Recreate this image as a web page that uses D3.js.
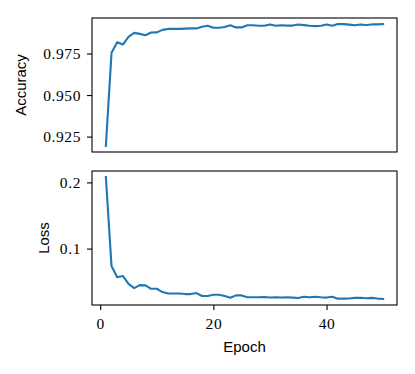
<!DOCTYPE html>
<html lang="en">
<head>
<meta charset="utf-8">
<script src="https://d3js.org/d3.v7.min.js"></script>
<style>
  body { margin: 0; background: #fff; }
  .tick text { font-family: "Liberation Serif", serif; font-size: 15.5px; fill: #000; letter-spacing: 0.6px; }
  .tick line { stroke: #000; stroke-width: 1.1px; }
  .domain { display: none; }
  .axis-label { font-family: "Liberation Sans", sans-serif; font-size: 15px; fill: #000; }
</style>
</head>
<body>
<div id="chart"></div>
<script>
var epochs = d3.range(1, 51);

var accuracy = [
  0.9194, 0.9754, 0.9818, 0.9804, 0.9850, 0.9874, 0.9868, 0.9860, 0.9876, 0.9877,
  0.9892, 0.9898, 0.9898, 0.9898, 0.9900, 0.9901, 0.9901, 0.9911, 0.9917, 0.9905,
  0.9905, 0.9909, 0.9920, 0.9907, 0.9907, 0.9920, 0.9920, 0.9917, 0.9917, 0.9925,
  0.9917, 0.9920, 0.9918, 0.9918, 0.9925, 0.9921, 0.9917, 0.9915, 0.9917, 0.9925,
  0.9917, 0.9927, 0.9927, 0.9924, 0.9920, 0.9925, 0.9922, 0.9925, 0.9925, 0.9927
];

var loss = [
  0.2080, 0.0736, 0.0567, 0.0587, 0.0467, 0.0403, 0.0448, 0.0445, 0.0393, 0.0393,
  0.0343, 0.0322, 0.0322, 0.0322, 0.0313, 0.0313, 0.0328, 0.0284, 0.0285, 0.0303,
  0.0303, 0.0284, 0.0258, 0.0293, 0.0293, 0.0264, 0.0264, 0.0264, 0.0270, 0.0262,
  0.0266, 0.0262, 0.0264, 0.0260, 0.0254, 0.0272, 0.0265, 0.0272, 0.0264, 0.0260,
  0.0272, 0.0244, 0.0244, 0.0246, 0.0256, 0.0258, 0.0249, 0.0255, 0.0245, 0.0240
];

var xTicks = [0, 20, 40];
var accTicks = [0.925, 0.950, 0.975];
var lossTicks = [0.1, 0.2];

var W = 415, H = 374;
var left = 92, right = 397;

var svg = d3.select("#chart").append("svg")
  .attr("width", W)
  .attr("height", H)
  .style("background", "#fff");

// shared x with matplotlib-style 5% margins
var xPad = (d3.max(epochs) - d3.min(epochs)) * 0.05;
var x = d3.scaleLinear()
  .domain([d3.min(epochs) - xPad, d3.max(epochs) + xPad])
  .range([left, right]);

function panel(values, ticks, fmt, top, bottom, label, labelX, showX) {
  var lo = d3.min(values), hi = d3.max(values), pad = (hi - lo) * 0.05;
  var y = d3.scaleLinear().domain([lo - pad, hi + pad]).range([bottom, top]);

  svg.append("g")
    .attr("transform", "translate(" + left + ",0)")
    .call(d3.axisLeft(y).tickValues(ticks).tickFormat(d3.format(fmt)).tickSize(5).tickPadding(6));

  if (showX) {
    svg.append("g")
      .attr("transform", "translate(0," + bottom + ")")
      .call(d3.axisBottom(x).tickValues(xTicks).tickSize(5).tickPadding(8));
  }

  svg.append("path")
    .datum(values)
    .attr("fill", "none")
    .attr("stroke", "#1f77b4")
    .attr("stroke-width", 2.1)
    .attr("stroke-linejoin", "round")
    .attr("stroke-linecap", "square")
    .attr("d", d3.line()
      .x(function(d, i) { return x(epochs[i]); })
      .y(function(d) { return y(d); }));

  svg.append("rect")
    .attr("x", left)
    .attr("y", top)
    .attr("width", right - left)
    .attr("height", bottom - top)
    .attr("fill", "none")
    .attr("stroke", "#000")
    .attr("stroke-width", 1.1);

  svg.append("text")
    .attr("class", "axis-label")
    .attr("transform", "translate(" + labelX + "," + ((top + bottom) / 2) + ") rotate(-90)")
    .attr("text-anchor", "middle")
    .text(label);
}

panel(accuracy, accTicks, ".3f", 18, 152, "Accuracy", 26, false);
panel(loss, lossTicks, ".1f", 171, 305, "Loss", 49, true);

svg.append("text")
  .attr("class", "axis-label")
  .attr("x", (left + right) / 2)
  .attr("y", 352)
  .attr("text-anchor", "middle")
  .text("Epoch");
</script>
</body>
</html>
